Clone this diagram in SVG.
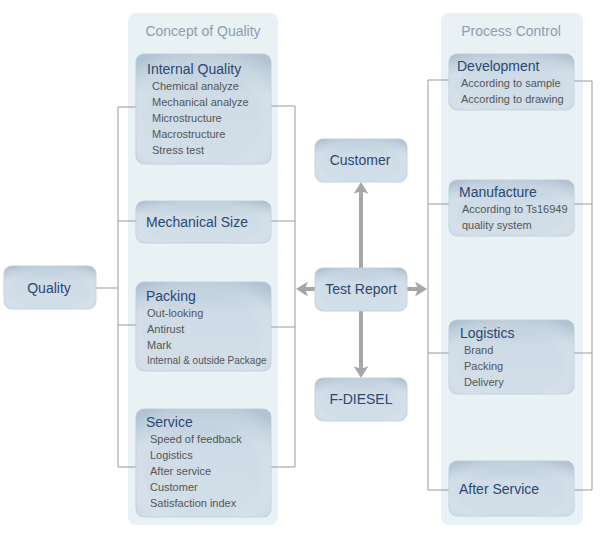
<svg xmlns="http://www.w3.org/2000/svg" width="600" height="539" viewBox="0 0 600 539">
<defs>
<linearGradient id="bg" x1="0" y1="0" x2="0" y2="1">
<stop offset="0" stop-color="#b8c9d8"/>
<stop offset="0.35" stop-color="#cfdce7"/>
<stop offset="1" stop-color="#d2dee8"/>
</linearGradient>
<radialGradient id="glow" cx="0.5" cy="0.6" r="0.7">
<stop offset="0.6" stop-color="#ffffff" stop-opacity="0"/>
<stop offset="1" stop-color="#a9bccd" stop-opacity="0.5"/>
</radialGradient>
<marker id="ah" viewBox="0 0 12 15" refX="3" refY="7.5" markerWidth="3" markerHeight="3.75" orient="auto" markerUnits="strokeWidth">
<path d="M0,0 L12,7.5 L0,15 L3,7.5 z" fill="#a6a6a6"/>
</marker>
<style>
.panel{fill:#e8f1f4}
.ptitle{font-family:"Liberation Sans",Arial,sans-serif;font-size:14px;fill:#8d9db0;text-anchor:middle}
.box{fill:url(#bg);stroke:#c3d1dd;stroke-width:1}
.boxg{fill:url(#glow)}
.t{font-family:"Liberation Sans",Arial,sans-serif;font-size:14px;fill:#2a4870}
.tc{font-family:"Liberation Sans",Arial,sans-serif;font-size:14px;fill:#2a4870;text-anchor:middle}
.i{font-family:"Liberation Sans",Arial,sans-serif;font-size:11px;fill:#555}
.s{font-family:"Liberation Sans",Arial,sans-serif;font-size:10px;fill:#555}
.ln{fill:none;stroke:#9a9a9a;stroke-width:1}
.ar{fill:none;stroke:#a6a6a6;stroke-width:4;marker-end:url(#ah)}
</style>
</defs>
<rect width="600" height="539" fill="#ffffff"/>

<g id="panel-concept">
<rect class="panel" x="128" y="13" width="150" height="512" rx="8"/>
<text class="ptitle" x="203" y="36">Concept of Quality</text>
</g>
<g id="panel-process">
<rect class="panel" x="441" y="13" width="142" height="512" rx="8"/>
<text class="ptitle" x="511" y="36">Process Control</text>
</g>

<g id="connectors">
<path class="ln" d="M96,288 H118 M118,107 V467 M118,107 H136 M118,221 H136 M118,325 H136 M118,467 H136"/>
<path class="ln" d="M271,106 H295 M295,106 V467 M271,221 H295 M271,327 H295 M271,467 H295"/>
<path class="ln" d="M428,80 V490 M428,80 H449 M428,204 H449 M428,353 H449 M428,490 H449"/>
<path class="ln" d="M574,81 H592 M592,81 V490 M574,204 H592 M574,353 H592 M574,490 H592"/>
<path class="ar" d="M361,268 V191"/>
<path class="ar" d="M361,311 V369"/>
<path class="ar" d="M315,289 H305"/>
<path class="ar" d="M407,289 H418"/>
</g>

<g id="quality">
<rect class="box" x="4" y="266" width="92" height="43" rx="8"/>
<rect class="boxg" x="4" y="266" width="92" height="43" rx="8"/>
<text class="tc" x="49" y="293">Quality</text>
</g>

<g id="internal-quality">
<rect class="box" x="136" y="54" width="135" height="110" rx="8"/>
<rect class="boxg" x="136" y="54" width="135" height="110" rx="8"/>
<text class="t" x="147" y="74">Internal Quality</text>
<text class="i" x="152" y="90">Chemical analyze</text>
<text class="i" x="152" y="106">Mechanical analyze</text>
<text class="i" x="152" y="122">Microstructure</text>
<text class="i" x="152" y="138">Macrostructure</text>
<text class="i" x="152" y="154">Stress test</text>
</g>

<g id="mechanical-size">
<rect class="box" x="136" y="201" width="135" height="42" rx="8"/>
<rect class="boxg" x="136" y="201" width="135" height="42" rx="8"/>
<text class="t" x="146" y="227">Mechanical Size</text>
</g>

<g id="packing">
<rect class="box" x="136" y="282" width="135" height="89" rx="8"/>
<rect class="boxg" x="136" y="282" width="135" height="89" rx="8"/>
<text class="t" x="146" y="301">Packing</text>
<text class="i" x="147" y="317">Out-looking</text>
<text class="i" x="147" y="333">Antirust</text>
<text class="i" x="147" y="349">Mark</text>
<text class="s" x="147" y="364">Internal &amp; outside Package</text>
</g>

<g id="service">
<rect class="box" x="136" y="409" width="135" height="108" rx="8"/>
<rect class="boxg" x="136" y="409" width="135" height="108" rx="8"/>
<text class="t" x="146" y="427">Service</text>
<text class="i" x="150" y="443">Speed of feedback</text>
<text class="i" x="150" y="459">Logistics</text>
<text class="i" x="150" y="475">After service</text>
<text class="i" x="150" y="491">Customer</text>
<text class="i" x="150" y="507">Satisfaction index</text>
</g>

<g id="customer">
<rect class="box" x="315" y="139" width="92" height="43" rx="8"/>
<rect class="boxg" x="315" y="139" width="92" height="43" rx="8"/>
<text class="tc" x="360" y="165">Customer</text>
</g>

<g id="test-report">
<rect class="box" x="315" y="268" width="92" height="43" rx="8"/>
<rect class="boxg" x="315" y="268" width="92" height="43" rx="8"/>
<text class="tc" x="361" y="294">Test Report</text>
</g>

<g id="f-diesel">
<rect class="box" x="315" y="378" width="92" height="43" rx="8"/>
<rect class="boxg" x="315" y="378" width="92" height="43" rx="8"/>
<text class="tc" x="361" y="404">F-DIESEL</text>
</g>

<g id="development">
<rect class="box" x="449" y="54" width="125" height="56" rx="8"/>
<rect class="boxg" x="449" y="54" width="125" height="56" rx="8"/>
<text class="t" x="457" y="71">Development</text>
<text class="i" x="461" y="87">According to sample</text>
<text class="i" x="461" y="103">According to drawing</text>
</g>

<g id="manufacture">
<rect class="box" x="449" y="180" width="125" height="56" rx="8"/>
<rect class="boxg" x="449" y="180" width="125" height="56" rx="8"/>
<text class="t" x="459" y="197">Manufacture</text>
<text class="i" x="462" y="213">According to Ts16949</text>
<text class="i" x="462" y="229">quality system</text>
</g>

<g id="logistics">
<rect class="box" x="449" y="320" width="125" height="74" rx="8"/>
<rect class="boxg" x="449" y="320" width="125" height="74" rx="8"/>
<text class="t" x="460" y="338">Logistics</text>
<text class="i" x="464" y="354">Brand</text>
<text class="i" x="464" y="370">Packing</text>
<text class="i" x="464" y="386">Delivery</text>
</g>

<g id="after-service">
<rect class="box" x="449" y="461" width="125" height="55" rx="8"/>
<rect class="boxg" x="449" y="461" width="125" height="55" rx="8"/>
<text class="t" x="459" y="494">After Service</text>
</g>
</svg>
